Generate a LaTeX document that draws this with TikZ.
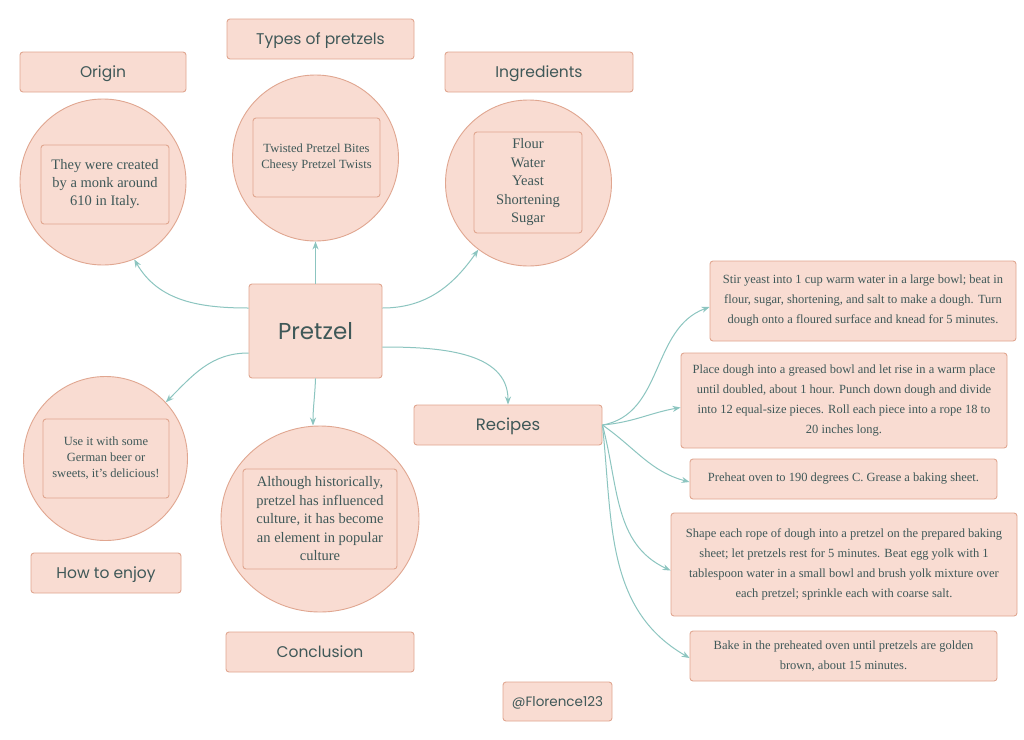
\documentclass[tikz,border=0pt]{standalone}
\usepackage{fontspec}
\setmainfont{Liberation Serif}
\newfontfamily\headfont{Poppins}
\usetikzlibrary{arrows.meta,shapes.geometric}
\definecolor{pfill}{HTML}{F9DCD2}
\definecolor{pborder}{HTML}{E0A690}
\definecolor{ptext}{HTML}{3F5858}
\definecolor{plink}{HTML}{8CC5C0}
\tikzset{
  headbox/.style={draw=pborder,fill=pfill,rounded corners=3pt,line width=0.9pt,
    text=ptext,font=\headfont\fontsize{15.5}{18}\selectfont,inner sep=0pt,
    text height=10.8pt,text depth=0pt},
  bubble/.style={circle,draw=pborder,fill=pfill,line width=0.9pt,inner sep=0pt},
  innerbox/.style={draw=pborder,rounded corners=3pt,line width=0.9pt,text=ptext,
    align=center,inner sep=0pt},
  stepbox/.style={draw=pborder,fill=pfill,rounded corners=3pt,line width=0.9pt,
    text=ptext,align=center,inner sep=0pt,font=\fontsize{12.5}{20}\selectfont},
  link/.style={draw=plink,line width=1pt,-{Stealth[length=8pt,width=6pt]}},
}
\begin{document}
\begin{tikzpicture}[x=1pt,y=-1pt]
\useasboundingbox[fill=white] (0,0) rectangle (1024,739);

% heading labels
\node[headbox,minimum width=166pt,minimum height=40pt] (origl) at (103,72) {Origin};
\node[headbox,minimum width=187pt,minimum height=40pt] (typesl) at (320.5,39) {Types of pretzels};
\node[headbox,minimum width=188pt,minimum height=40pt] (ingl) at (539,72) {Ingredients};
\node[headbox,minimum width=150pt,minimum height=40pt] (enjl) at (106,573) {How to enjoy};
\node[headbox,minimum width=188pt,minimum height=40pt] (concl) at (320,652) {Conclusion};
\node[headbox,minimum width=109pt,minimum height=39pt,font=\headfont\fontsize{13.5}{16}\selectfont,text height=9.4pt] (flor) at (557.5,701.5) {@Florence123};

% bubbles
\node[bubble,minimum size=166pt] (origc) at (103,182) {};
\node[innerbox,minimum width=128pt,minimum height=79pt,font=\fontsize{14.5}{18}\selectfont] (origt) at (105,184.5) {They were created\\by a monk around\\610 in Italy.};

\node[bubble,minimum size=166pt] (typesc) at (315.5,158) {};
\node[innerbox,minimum width=127pt,minimum height=79pt] (typesb) at (316.5,157.5) {};
\node[text=ptext,align=center,font=\fontsize{12.5}{16}\selectfont,anchor=north] (typest) at (316.5,140) {Twisted Pretzel Bites\\Cheesy Pretzel Twists};

\node[bubble,minimum size=166pt] (ingc) at (528.5,183) {};
\node[innerbox,minimum width=108pt,minimum height=101pt,font=\fontsize{14.5}{18.5}\selectfont] (ingt) at (528,182.5) {Flour\\Water\\Yeast\\Shortening\\Sugar};

\node[bubble,minimum size=164pt] (enjc) at (105.5,458.5) {};
\node[innerbox,minimum width=126pt,minimum height=79pt,font=\fontsize{12.5}{16}\selectfont] (enjt) at (106,458.5) {Use it with some\\German beer or\\sweets, it{\char"0027}s delicious!};

\node[ellipse,draw=pborder,fill=pfill,line width=0.9pt,inner sep=0pt,minimum width=198pt,minimum height=186pt] (concc) at (320,519) {};
\node[innerbox,minimum width=154pt,minimum height=100pt,font=\fontsize{14.5}{18.5}\selectfont] (conct) at (320,519) {Although historically,\\pretzel has influenced\\culture, it has become\\an element in popular\\culture};

% central
\node[headbox,minimum width=133pt,minimum height=94pt,font=\headfont\fontsize{23}{26}\selectfont,text height=16pt] (pretzel) at (315.5,331) {Pretzel};
\node[headbox,minimum width=188pt,minimum height=40pt,font=\headfont\fontsize{16.5}{19}\selectfont,text height=11.5pt] (recipes) at (508,425) {Recipes};

% steps
\node[stepbox,minimum width=306pt,minimum height=80pt] (s1) at (863,301) {Stir yeast into 1 cup warm water in a large bowl; beat in\\flour, sugar, shortening, and salt to make a dough. Turn\\dough onto a floured surface and knead for 5 minutes.};
\node[stepbox,minimum width=326pt,minimum height=95pt] (s2) at (844,400.5) {Place dough into a greased bowl and let rise in a warm place\\until doubled, about 1 hour. Punch down dough and divide\\into 12 equal-size pieces. Roll each piece into a rope 18 to\\20 inches long.};
\node[stepbox,minimum width=307pt,minimum height=40pt] (s3) at (843.5,479) {Preheat oven to 190 degrees C. Grease a baking sheet.};
\node[stepbox,minimum width=346pt,minimum height=103pt] (s4) at (844,564.5) {Shape each rope of dough into a pretzel on the prepared baking\\sheet; let pretzels rest for 5 minutes. Beat egg yolk with 1\\tablespoon water in a small bowl and brush yolk mixture over\\each pretzel; sprinkle each with coarse salt.};
\node[stepbox,minimum width=307pt,minimum height=50pt] (s5) at (843.5,656) {Bake in the preheated oven until pretzels are golden\\brown, about 15 minutes.};

% connectors from Pretzel
\draw[link] ([yshift=23pt]pretzel.west) to[out=180,in=-60] (origc.-68);
\draw[link] (pretzel.north) -- (typesc.south);
\draw[link] ([yshift=23pt]pretzel.east) to[out=0,in=-125] (ingc.-127);
\draw[link] ([yshift=-22pt]pretzel.west) to[out=180,in=45] (enjc.43);
\draw[link] (pretzel.south) to[out=-92,in=90] ([xshift=-7pt]concc.north);
\draw[link] ([yshift=-16pt]pretzel.east) to[out=0,in=90] (recipes.north);

% connectors from Recipes
\draw[link] (recipes.east) to[out=10,in=200] ([yshift=-6pt]s1.west);
\draw[link] (recipes.east) to[out=5,in=190] ([yshift=-7pt]s2.west);
\draw[link] (recipes.east) to[out=-35,in=165] ([yshift=-3pt]s3.west);
\draw[link] (recipes.east) to[out=-75,in=155] ([yshift=-6pt]s4.west);
\draw[link] (recipes.east) to[out=-84,in=150] ([yshift=-2pt]s5.west);
\end{tikzpicture}
\end{document}
